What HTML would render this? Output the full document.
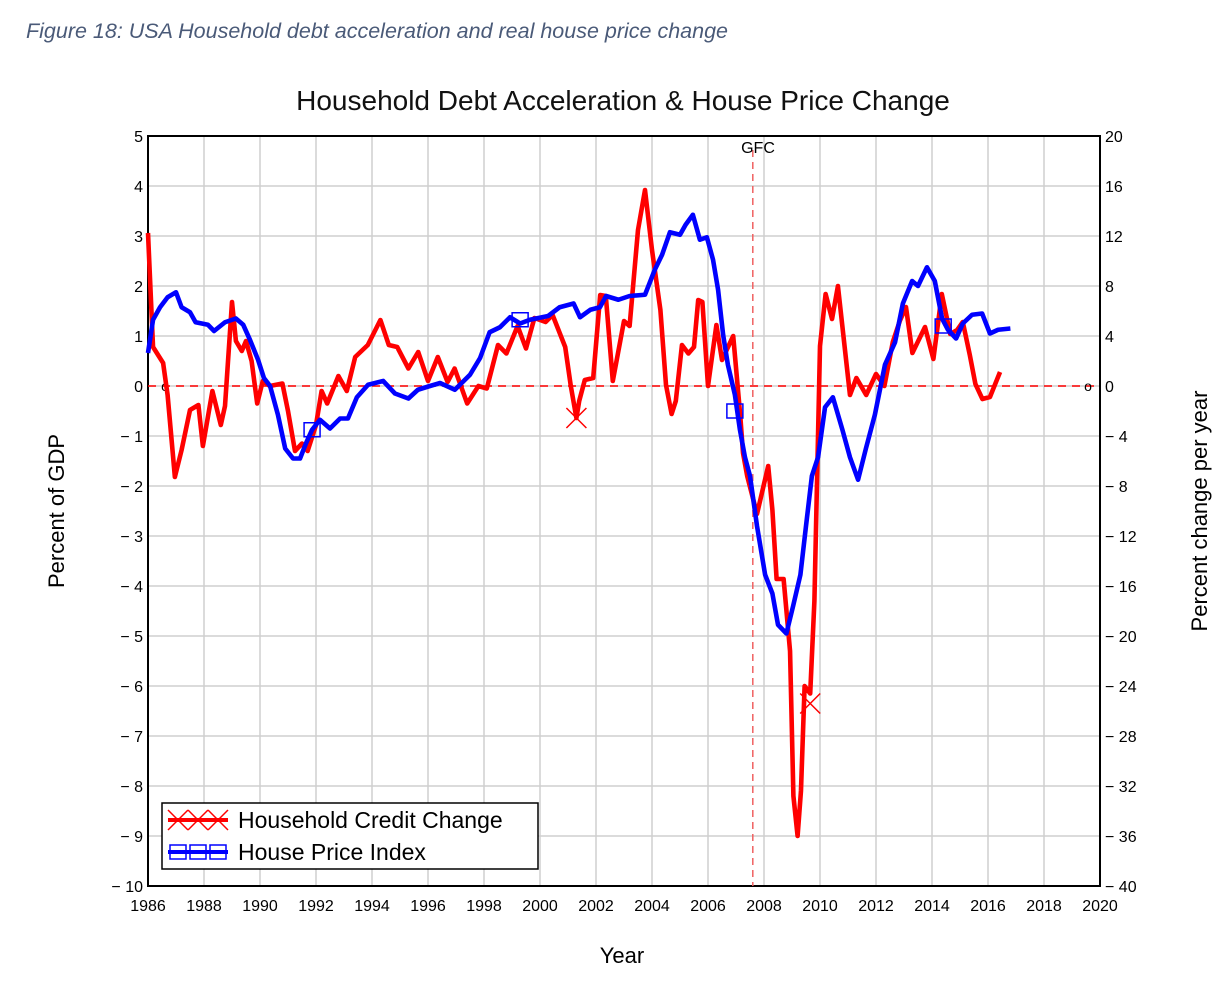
<!DOCTYPE html>
<html><head><meta charset="utf-8"><style>
body{margin:0;background:#fff;width:1230px;height:996px;overflow:hidden;font-family:"Liberation Sans",sans-serif}
svg text{font-family:"Liberation Sans",sans-serif}
</style></head><body>
<svg id="c" width="1230" height="996">
<text x="26" y="38" font-size="21.5" font-style="italic" fill="#4a5a78">Figure 18: USA Household debt acceleration and real house price change</text>
<text x="623" y="110" font-size="28" text-anchor="middle" fill="#111">Household Debt Acceleration &amp; House Price Change</text>
<text x="622" y="963" font-size="22" text-anchor="middle">Year</text>
<text transform="translate(64,511) rotate(-90)" font-size="22" text-anchor="middle">Percent of GDP</text>
<text transform="translate(1207,511) rotate(-90)" font-size="22" text-anchor="middle">Percent change per year</text>
<g id="grid"></g><g id="axes"></g><g id="series"></g>
</svg>
<script>
const years=[1986,1988,1990,1992,1994,1996,1998,2000,2002,2004,2006,2008,2010,2012,2014,2016,2018,2020];
const leftTicks=[5,4,3,2,1,0,-1,-2,-3,-4,-5,-6,-7,-8,-9,-10];
const rightTicks=[20,16,12,8,4,0,-4,-8,-12,-16,-20,-24,-28,-32,-36,-40];
const creditX=[1986.0,1986.18,1986.54,1986.7,1986.96,1987.2,1987.5,1987.8,1987.96,1988.3,1988.6,1988.75,1989.0,1989.14,1989.35,1989.5,1989.7,1989.9,1990.1,1990.35,1990.8,1991.0,1991.25,1991.5,1991.7,1992.0,1992.2,1992.4,1992.8,1993.1,1993.4,1993.85,1994.3,1994.6,1994.9,1995.3,1995.65,1996.0,1996.35,1996.7,1996.95,1997.4,1997.8,1998.1,1998.5,1998.8,1999.2,1999.5,1999.8,2000.2,2000.45,2000.9,2001.1,2001.3,2001.4,2001.6,2001.9,2002.15,2002.35,2002.6,2003.0,2003.2,2003.5,2003.75,2004.0,2004.3,2004.5,2004.7,2004.85,2005.07,2005.3,2005.5,2005.65,2005.8,2006.0,2006.3,2006.5,2006.9,2007.15,2007.25,2007.4,2007.75,2008.15,2008.3,2008.45,2008.7,2008.93,2009.05,2009.2,2009.32,2009.45,2009.65,2009.8,2010.0,2010.2,2010.43,2010.64,2011.07,2011.3,2011.65,2012.0,2012.3,2012.6,2012.85,2013.07,2013.3,2013.75,2014.05,2014.35,2014.65,2014.9,2015.1,2015.35,2015.55,2015.8,2016.07,2016.43];
const creditY=[3.06,0.78,0.46,-0.18,-1.82,-1.28,-0.48,-0.38,-1.2,-0.1,-0.78,-0.4,1.68,0.9,0.7,0.9,0.5,-0.35,0.1,0,0.05,-0.5,-1.3,-1.15,-1.3,-0.78,-0.1,-0.35,0.2,-0.1,0.58,0.82,1.32,0.82,0.78,0.35,0.68,0.1,0.58,0.08,0.35,-0.35,0,-0.05,0.82,0.65,1.2,0.75,1.36,1.28,1.42,0.78,0,-0.64,-0.3,0.12,0.16,1.82,1.8,0.1,1.3,1.2,3.12,3.92,2.72,1.52,0.02,-0.56,-0.3,0.82,0.65,0.78,1.72,1.68,0,1.22,0.52,1.0,-0.58,-1.34,-1.8,-2.56,-1.6,-2.48,-3.86,-3.86,-5.3,-8.2,-9.0,-8.1,-6.0,-6.15,-4.3,0.8,1.84,1.34,2.0,-0.18,0.16,-0.18,0.24,0,0.88,1.3,1.58,0.66,1.18,0.54,1.84,1.04,1.12,1.28,0.62,0.04,-0.26,-0.22,0.28];
const hpiX=[1986.0,1986.18,1986.43,1986.7,1987.0,1987.2,1987.5,1987.7,1988.14,1988.36,1988.75,1989.14,1989.4,1989.64,1989.93,1990.14,1990.36,1990.64,1990.9,1991.18,1991.43,1991.64,1991.86,1992.14,1992.5,1992.86,1993.14,1993.46,1993.86,1994.4,1994.82,1995.3,1995.64,1996.07,1996.43,1996.96,1997.5,1997.86,1998.2,1998.57,1998.93,1999.29,1999.64,2000.29,2000.7,2001.2,2001.43,2001.8,2002.14,2002.36,2002.8,2003.2,2003.75,2004.1,2004.36,2004.64,2005.0,2005.2,2005.46,2005.71,2005.96,2006.18,2006.36,2006.54,2006.71,2006.96,2007.14,2007.32,2007.5,2007.75,2008.04,2008.3,2008.5,2008.8,2009.04,2009.3,2009.5,2009.71,2009.93,2010.18,2010.46,2010.8,2011.07,2011.36,2011.64,2011.96,2012.32,2012.68,2012.96,2013.29,2013.5,2013.82,2014.1,2014.36,2014.57,2014.86,2015.1,2015.43,2015.79,2016.07,2016.36,2016.8];
const hpiY=[2.64,5.3,6.3,7.1,7.5,6.3,5.9,5.1,4.9,4.4,5.1,5.4,4.9,3.7,2.1,0.64,0,-2.3,-5.0,-5.8,-5.8,-4.6,-3.5,-2.7,-3.4,-2.6,-2.6,-0.9,0.1,0.4,-0.6,-1.0,-0.3,0,0.24,-0.3,0.9,2.24,4.3,4.7,5.5,5.0,5.3,5.6,6.3,6.6,5.5,6.1,6.3,7.2,6.9,7.2,7.3,9.3,10.5,12.3,12.1,12.9,13.7,11.7,11.9,10.1,7.7,4.1,1.7,-0.7,-3.5,-5.7,-7.2,-11.2,-15.1,-16.6,-19.1,-19.8,-17.6,-15.1,-11.2,-7.2,-5.7,-1.7,-0.9,-3.5,-5.7,-7.5,-5.0,-2.3,1.7,3.5,6.6,8.4,8.0,9.5,8.4,5.4,4.5,3.8,5.0,5.7,5.8,4.2,4.5,4.6];
const L=148,R=1100,T=136,B=886;
const xs=y=>L+(y-1986)*(R-L)/34;
const yl=v=>T+(5-v)*(B-T)/15;
const yr=v=>T+(20-v)*(B-T)/60;
const NS="http://www.w3.org/2000/svg";
function mk(tag,attrs,parent,txt){const e=document.createElementNS(NS,tag);for(const k in attrs)e.setAttribute(k,attrs[k]);if(txt!==undefined)e.textContent=txt;parent.appendChild(e);return e;}
const grid=document.getElementById('grid'),axes=document.getElementById('axes'),ser=document.getElementById('series');
years.forEach(y=>{const l=mk('line',{x1:xs(y),x2:xs(y),y1:T,y2:B,stroke:'#cfcfcf','stroke-width':1.5},grid);


const t=mk('text',{x:xs(y),y:B+25,'font-size':16,'text-anchor':'middle'},axes,String(y));

});
leftTicks.forEach(v=>{const l=mk('line',{x1:L,x2:R,y1:yl(v),y2:yl(v),stroke:'#cfcfcf','stroke-width':1.5},grid);


const t=mk('text',{x:L-5,y:yl(v)+6,'font-size':16,'text-anchor':'end'},axes,v<0?'\u2212 '+(-v):String(v));

});
rightTicks.forEach(v=>{const t=mk('text',{x:R+5,y:yr(v)+6,'font-size':16},axes,v<0?'\u2212 '+(-v):String(v));

});
const fr=mk('rect',{x:L,y:T,width:R-L,height:B-T,fill:'none',stroke:'#000','stroke-width':2},axes);


const z=mk('line',{x1:L,x2:R,y1:yl(0),y2:yl(0),stroke:'#f00','stroke-width':1.5,'stroke-dasharray':'8,6'},ser);


const g=mk('line',{x1:xs(2007.6),x2:xs(2007.6),y1:T+14,y2:B,stroke:'#f06060','stroke-width':1.5,'stroke-dasharray':'7,5'},ser);


const gt=mk('text',{x:758,y:153,'font-size':16,'text-anchor':'middle'},ser,'GFC');


const o1=mk('text',{x:165,y:391,'font-size':14,'text-anchor':'middle'},ser,'o');


const o2=mk('text',{x:1088,y:391,'font-size':14,'text-anchor':'middle'},ser,'o');


const cp=mk('polyline',{points:creditX.map((x,i)=>xs(x)+','+yl(creditY[i])).join(' '),fill:'none',stroke:'#f00','stroke-width':4.6,'stroke-linejoin':'round'},ser);


const hp=mk('polyline',{points:hpiX.map((x,i)=>xs(x)+','+yr(hpiY[i])).join(' '),fill:'none',stroke:'#00f','stroke-width':4.6,'stroke-linejoin':'round'},ser);


function cross(x,y,p){const e=mk('path',{d:`M${x-10},${y-10}L${x+10},${y+10}M${x-10},${y+10}L${x+10},${y-10}`,stroke:'#f00','stroke-width':1.5,fill:'none'},p);return e;}
function sq(x,y,p){return mk('rect',{x:x-8,y:y-7,width:16,height:14,fill:'none',stroke:'#00f','stroke-width':1.5},p);}
[[2001.3,-0.64],[2009.65,-6.35]].forEach(d=>{const e=cross(xs(d[0]),yl(d[1]),ser);

});
[[1991.86,-3.5],[1999.29,5.3],[2006.96,-2.0],[2014.4,4.8]].forEach(d=>{const e=sq(xs(d[0]),yr(d[1]),ser);

});
const lg=mk('g',{},ser);


mk('rect',{x:162,y:803,width:376,height:66,fill:'#fff',stroke:'#000','stroke-width':1.5},lg);
mk('line',{x1:168,x2:228,y1:820,y2:820,stroke:'#f00','stroke-width':4},lg);
[178,198,218].forEach(x=>cross(x,820,lg));
mk('line',{x1:168,x2:228,y1:852,y2:852,stroke:'#00f','stroke-width':4},lg);
[178,198,218].forEach(x=>sq(x,852,lg));
const l1=mk('text',{x:238,y:828,'font-size':23},lg,'Household Credit Change');


const l2=mk('text',{x:238,y:860,'font-size':23},lg,'House Price Index');


</script>
</body></html>
